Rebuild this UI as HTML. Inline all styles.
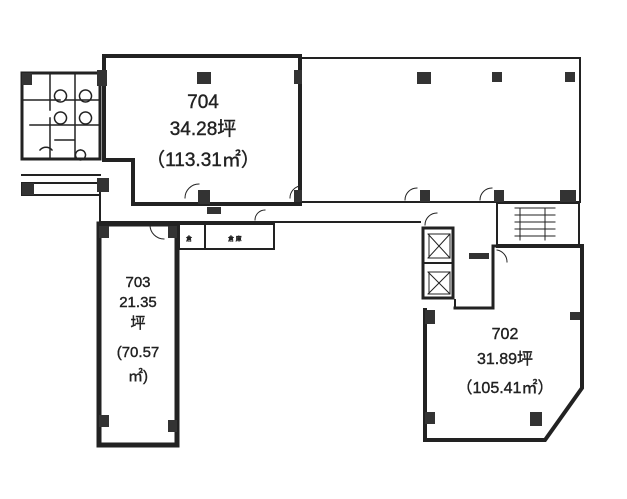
<!DOCTYPE html>
<html><head><meta charset="utf-8"><style>
html,body{margin:0;padding:0;background:#fff;width:627px;height:499px;overflow:hidden}
svg{display:block}
text{font-family:"Liberation Sans","Noto Sans CJK JP",sans-serif;fill:#222;stroke:#222;stroke-width:0.4}
</style></head><body>
<svg width="627" height="499" viewBox="0 0 627 499">
<g fill="none" stroke="#222" stroke-linecap="square">
<path d="M133 204 V160 H104 V56 H300" stroke-width="4"/>
<path d="M133 204 H300 V56" stroke-width="4"/>
<path d="M300 58 H580 V202 H300" stroke-width="2"/>
<path d="M100 222 H420" stroke-width="2"/>
<path d="M100 196 V222" stroke-width="2"/>
<rect x="99" y="224" width="78" height="221" stroke-width="5"/>
<rect x="179" y="224" width="95" height="25" stroke-width="2"/>
<line x1="205" y1="224" x2="205" y2="249" stroke-width="2"/>
<rect x="423" y="228" width="30" height="70" stroke-width="3"/>
<line x1="423" y1="263" x2="453" y2="263" stroke-width="2"/>
<path d="M428 234 L450 258 M450 234 L428 258 M428 272 L450 294 M450 272 L428 294" stroke-width="1"/>
<rect x="429" y="234" width="21" height="24" stroke-width="1"/>
<rect x="429" y="272" width="21" height="22" stroke-width="1"/>
<path d="M455 308 H493 V246 H498" stroke-width="3"/>
<path d="M455 300 V308" stroke-width="2"/>
<rect x="497" y="203" width="82" height="42" stroke-width="2"/>
<path d="M515 208 H555 M515 215 H555 M515 222 H555 M515 229 H555 M515 236 H555 M520 208 V240 M545 208 V240" stroke-width="1"/>
<path d="M425 310 V440 H545 L582 388 V246 H498" stroke-width="4"/>
<rect x="22" y="73" width="78" height="86" stroke-width="3"/>
<path d="M22 100 H60 M65 100 H100 M30 125 H100 M50 73 V110 M50 118 V159 M75 73 V159 M55 140 H75" stroke-width="1.5"/>
<path d="M60 90 a6 6 0 1 0 1 0 M85 90 a6 6 0 1 0 1 0 M60 112 a6 6 0 1 0 1 0 M85 112 a6 6 0 1 0 1 0 M40 150 a8 8 0 0 1 12 0 M80 150 a5 5 0 1 0 1 0" stroke-width="1.5"/>
<path d="M22 175 H100 M22 195 H100" stroke-width="2"/>
<rect x="22" y="183" width="78" height="12" stroke-width="2"/>
<path d="M185 198 a14 14 0 0 1 14 -14 M290 198 a12 12 0 0 1 10 -12 M405 200 a12 12 0 0 1 12 -12 M480 200 a12 12 0 0 1 12 -12 M255 220 a10 10 0 0 1 10 -10 M150 225 a14 14 0 0 0 14 14 M425 225 a12 12 0 0 1 12 -12 M497 250 a12 12 0 0 1 10 12" stroke-width="1"/>
</g>
<g fill="#333">
<rect x="97" y="70" width="10" height="16"/><rect x="197" y="72" width="14" height="12"/>
<rect x="294" y="70" width="8" height="14"/><rect x="198" y="190" width="12" height="14"/>
<rect x="294" y="190" width="8" height="12"/>
<rect x="417" y="72" width="14" height="12"/><rect x="492" y="72" width="10" height="10"/>
<rect x="565" y="72" width="10" height="10"/><rect x="420" y="190" width="10" height="12"/>
<rect x="494" y="190" width="10" height="12"/><rect x="560" y="190" width="16" height="12"/>
<rect x="22" y="73" width="10" height="12"/><rect x="97" y="178" width="12" height="14"/>
<rect x="22" y="183" width="12" height="12"/>
<rect x="99" y="226" width="10" height="12"/><rect x="168" y="226" width="9" height="12"/>
<rect x="99" y="415" width="10" height="12"/><rect x="168" y="420" width="9" height="12"/>
<rect x="425" y="310" width="10" height="14"/><rect x="425" y="412" width="10" height="12"/>
<rect x="530" y="412" width="12" height="14"/><rect x="570" y="312" width="10" height="8"/>
<rect x="469" y="253" width="20" height="6"/><rect x="207" y="207" width="14" height="7"/>
</g>
<text x="203" y="108" font-size="19" text-anchor="middle">704</text>
<text x="203" y="135" font-size="19" text-anchor="middle">34.28坪</text>
<text x="203" y="166" font-size="19" text-anchor="middle">（113.31㎡）</text>
<text x="138" y="287" font-size="15" text-anchor="middle">703</text>
<text x="138" y="307" font-size="15" text-anchor="middle">21.35</text>
<text x="138" y="328" font-size="15" text-anchor="middle">坪</text>
<text x="138" y="357" font-size="15" text-anchor="middle">(70.57</text>
<text x="138" y="381" font-size="15" text-anchor="middle">㎡)</text>
<text x="505" y="339" font-size="16" text-anchor="middle">702</text>
<text x="505" y="364" font-size="16" text-anchor="middle">31.89坪</text>
<text x="505" y="393" font-size="16" text-anchor="middle">（105.41㎡）</text>
<text x="228" y="241" font-size="6" stroke-width="0">倉 庫</text>
<text x="186" y="241" font-size="6" stroke-width="0">倉</text>
</svg>
</body></html>
